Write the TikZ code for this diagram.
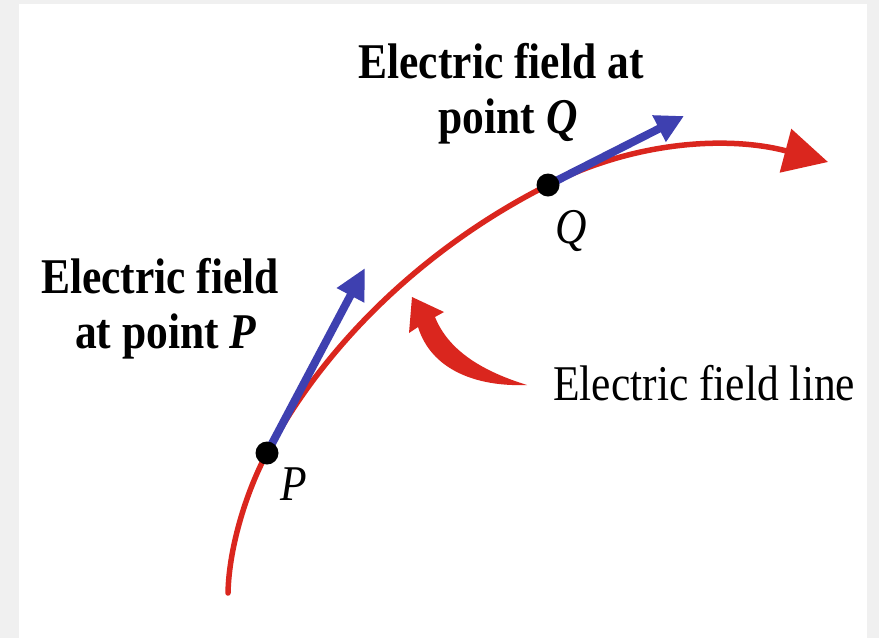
\documentclass[tikz,border=0pt]{standalone}
\usepackage{fontspec}
\setmainfont{Liberation Serif}[FakeStretch=0.87]
\usetikzlibrary{arrows.meta}
\definecolor{fieldred}{RGB}{218,38,30}
\definecolor{fieldblue}{RGB}{62,64,176}
\definecolor{framegray}{RGB}{240,240,240}
\begin{document}
\begin{tikzpicture}[x=1pt,y=-1pt,
  lbl/.style={inner sep=0pt, font=\fontsize{50}{55}\selectfont\bfseries},
  txt/.style={inner sep=0pt, font=\fontsize{50}{55}\selectfont},
  ptlbl/.style={inner sep=0pt, font=\fontsize{50}{55}\selectfont\itshape},
  fline/.style={draw=fieldred, line width=5.5pt, line cap=round},
  evec/.style={draw=fieldblue, line width=8pt},
  dotpt/.style={circle, fill=black, inner sep=0pt, minimum size=23pt}]
\useasboundingbox (0,0) rectangle (879,638);
\fill[framegray] (0,0) rectangle (879,638);
\fill[white] (19,4) rectangle (867,638);
% field line
\coordinate (start) at (228,593);
\coordinate (P) at (267,453);
\coordinate (Q) at (548,185);
\coordinate (end) at (828,162);
\coordinate (Ptip) at (365,268);
\coordinate (Qtip) at (684,116);
\draw[fline, -{Triangle[length=44pt,width=44pt]}] (start)
  .. controls (229,545) and (248,488) .. (P)
  .. controls (327.8,338.1) and (431.9,243.5) .. (Q)
  .. controls (637,140) and (730,136) .. (end);
% field vectors
\draw[evec, -{Triangle[length=31pt,width=29pt]}] (P) -- (Ptip);
\draw[evec, -{Triangle[length=28pt,width=28pt]}] (Q) -- (Qtip);
% points
\node[dotpt] (dP) at (P) {};
\node[dotpt] (dQ) at (Q) {};
\node[ptlbl, anchor=base] (lP) at (294,500) {P};
\node[ptlbl, anchor=base] (lQ) at (571,243) {Q};
% labels
\node[lbl, anchor=base] (q1) at (501,78) {Electric field at};
\node[lbl, anchor=base] (q2) at (508,133) {point \textit{Q}};
\node[lbl, anchor=base] (p1) at (160,293) {Electric field};
\node[lbl, anchor=base] (p2) at (166,348) {at point \textit{P}};
\node[txt, anchor=base west] (fl) at (553,400) {Electric field line};
% pointer
\fill[fieldred] (412,297) -- (444,312) -- (435,317)
  .. controls (449,352) and (485,372) .. (527,385)
  .. controls (475,387) and (431,369) .. (418,327) -- (409,333) -- cycle;
\end{tikzpicture}
\end{document}
